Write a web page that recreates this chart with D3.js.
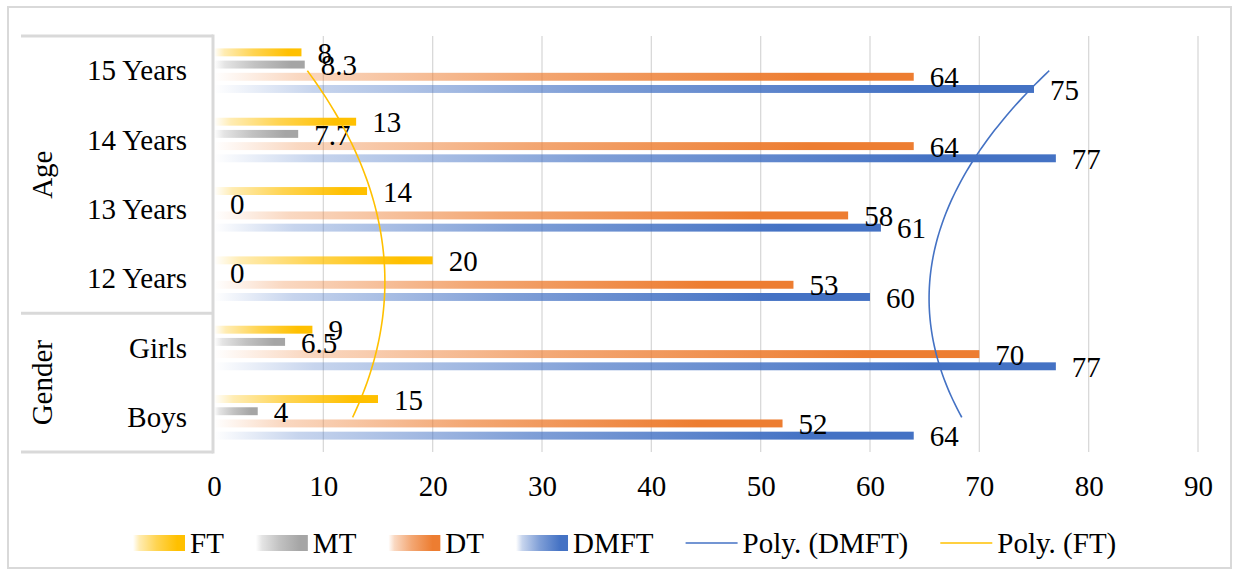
<!DOCTYPE html>
<html>
<head>
<meta charset="utf-8">
<script src="https://cdn.jsdelivr.net/npm/d3@7"></script>
<style>
  html, body { margin: 0; padding: 0; background: #fff; }
  svg { display: block; }
  text { font-family: "Liberation Serif", "Times New Roman", serif; fill: #000; }
</style>
</head>
<body>
<svg id="chart" width="1239" height="577"></svg>
<script>
// Categories in sheet order (bottom to top on the chart)
const categories = ["Boys", "Girls", "12 Years", "13 Years", "14 Years", "15 Years"];
const groups = [
  { name: "Gender", members: ["Boys", "Girls"] },
  { name: "Age", members: ["12 Years", "13 Years", "14 Years", "15 Years"] }
];
const seriesNames = ["FT", "MT", "DT", "DMFT"];
const ftValues   = [15, 9, 20, 14, 13, 8];
const mtValues   = [4, 6.5, 0, 0, 7.7, 8.3];
const dtValues   = [52, 70, 53, 58, 64, 64];
const dmftValues = [64, 77, 60, 61, 77, 75];
const xTicks = [0, 10, 20, 30, 40, 50, 60, 70, 80, 90];

const seriesValues = { FT: ftValues, MT: mtValues, DT: dtValues, DMFT: dmftValues };
const colors = { FT: "#FFC000", MT: "#A5A5A5", DT: "#ED7D31", DMFT: "#4472C4" };

const W = 1239, H = 577;
const plot = { left: 214, right: 1198, top: 36, bottom: 452 };
const tableLeft = 21;
const grid = "#d9d9d9";
const fontSize = 29;
const serif = '"Liberation Serif", "Times New Roman", serif';

const svg = d3.select("#chart");
svg.append("rect").attr("x", 8).attr("y", 7).attr("width", W - 16).attr("height", H - 16)
  .attr("fill", "#fff").attr("stroke", grid).attr("stroke-width", 2);

const x = d3.scaleLinear().domain([0, 90]).range([plot.left, plot.right]);
const y0 = d3.scaleBand().domain(categories.slice().reverse())
  .range([plot.top, plot.bottom]).paddingInner(0.296).paddingOuter(0.148);
const y1 = d3.scaleBand().domain(seriesNames)
  .range([0, y0.bandwidth()]).paddingInner(0.35).paddingOuter(0.175);

// Horizontal gradient fills, light on the left to full colour on the right
const defs = svg.append("defs");
const gradStops = [[0, 0.0], [0.12, 0.3], [0.45, 0.68], [0.85, 1], [1, 1]];
seriesNames.forEach(s => {
  const g = defs.append("linearGradient").attr("id", "grad-" + s)
    .attr("x1", 0).attr("x2", 1).attr("y1", 0).attr("y2", 0);
  gradStops.forEach(([o, a]) => g.append("stop").attr("offset", o)
    .attr("stop-color", colors[s]).attr("stop-opacity", a));
});

// Vertical gridlines
svg.append("g").selectAll("line").data(xTicks.filter(t => t > 0)).join("line")
  .attr("x1", d => x(d)).attr("x2", d => x(d))
  .attr("y1", plot.top).attr("y2", plot.bottom)
  .attr("stroke", grid).attr("stroke-width", 1.3);

// X-axis tick labels
const xAxis = d3.axisBottom(x).tickValues(xTicks).tickSize(0).tickPadding(0);
const xg = svg.append("g").attr("transform", `translate(0,${plot.bottom})`).call(xAxis);
xg.attr("font-family", null).attr("font-size", null);
xg.select(".domain").remove();
xg.selectAll("text").attr("font-size", fontSize).attr("dy", null).attr("y", 44)
  .style("font-family", serif).attr("fill", "#000");

// Bars
const rows = categories.map((c, i) => ({ cat: c, i }));
const barG = svg.append("g");
rows.forEach(r => {
  seriesNames.forEach(s => {
    const v = seriesValues[s][r.i];
    const yy = y0(r.cat) + y1(s);
    if (v > 0) {
      barG.append("rect").attr("x", x(0)).attr("y", yy)
        .attr("width", x(v) - x(0)).attr("height", y1.bandwidth())
        .attr("fill", `url(#grad-${s})`);
    }
  });
});

// Category table: axis line, separators, labels
const tbl = svg.append("g");
tbl.append("line").attr("x1", plot.left - 1).attr("x2", plot.left - 1)
  .attr("y1", plot.top - 1.5).attr("y2", plot.bottom + 1.5)
  .attr("stroke", grid).attr("stroke-width", 3);
const step = y0.step();
const catTop = c => y0(c) - y0.paddingInner() * step / 2;
const catBottom = c => y0(c) + y0.bandwidth() + y0.paddingInner() * step / 2;
const sepYs = [plot.top, ...groups.map(g => catBottom(g.members[0]))];
sepYs.forEach(yv => tbl.append("line").attr("x1", tableLeft).attr("x2", plot.left - 1)
  .attr("y1", yv).attr("y2", yv).attr("stroke", grid).attr("stroke-width", 3));

tbl.selectAll("text.cat").data(categories).join("text").attr("class", "cat")
  .attr("x", 187).attr("y", d => y0(d) + y0.bandwidth() / 2)
  .attr("dy", "0.33em").attr("text-anchor", "end").attr("font-size", fontSize)
  .text(d => d);

groups.forEach(g => {
  const top = catTop(g.members[g.members.length - 1]);
  const bot = catBottom(g.members[0]);
  const cy = (top + bot) / 2;
  tbl.append("text").attr("transform", `translate(52,${cy}) rotate(-90)`)
    .attr("text-anchor", "middle").attr("font-size", fontSize).text(g.name);
});

// Data labels
const labG = svg.append("g");
rows.forEach(r => {
  seriesNames.forEach(s => {
    const v = seriesValues[s][r.i];
    const yy = y0(r.cat) + y1(s) + y1.bandwidth() / 2;
    labG.append("text").attr("x", x(v) + 16).attr("y", yy).attr("dy", "0.37em")
      .attr("font-size", fontSize).text(v);
  });
});

// Second-order polynomial trendlines (least squares over category index 1..6)
function quadFit(vals) {
  const n = vals.length;
  const xs = vals.map((_, i) => i + 1);
  const S = k => d3.sum(xs, xi => Math.pow(xi, k));
  const T = k => d3.sum(xs, (xi, i) => Math.pow(xi, k) * vals[i]);
  const A = [[n, S(1), S(2)], [S(1), S(2), S(3)], [S(2), S(3), S(4)]];
  const b = [T(0), T(1), T(2)];
  for (let i = 0; i < 3; i++) {
    for (let j = i + 1; j < 3; j++) {
      const f = A[j][i] / A[i][i];
      for (let k = i; k < 3; k++) A[j][k] -= f * A[i][k];
      b[j] -= f * b[i];
    }
  }
  const c = [0, 0, 0];
  for (let i = 2; i >= 0; i--) {
    let s = b[i];
    for (let k = i + 1; k < 3; k++) s -= A[i][k] * c[k];
    c[i] = s / A[i][i];
  }
  return t => c[0] + c[1] * t + c[2] * t * t;
}
const centerY = c => y0(c) + y0.bandwidth() / 2;
const tY = d3.scaleLinear().domain([1, categories.length])
  .range([centerY(categories[0]), centerY(categories[categories.length - 1])]);
const tSamples = d3.range(1, categories.length + 0.0001, 0.05);
const trendLine = d3.line().x(d => x(d.v)).y(d => tY(d.t)).curve(d3.curveBasis);
[["DMFT", dmftValues], ["FT", ftValues]].forEach(([s, vals]) => {
  const f = quadFit(vals);
  svg.append("path").datum(tSamples.map(t => ({ t, v: f(t) })))
    .attr("d", trendLine).attr("fill", "none")
    .attr("stroke", colors[s]).attr("stroke-width", 1.6);
});

// Legend
const legendItems = [
  ...seriesNames.map(s => ({ label: s, type: "bar", key: s })),
  { label: "Poly. (DMFT)", type: "line", key: "DMFT" },
  { label: "Poly. (FT)", type: "line", key: "FT" }
];
const lg = svg.append("g");
let lx = 133;
const ly = 543;
legendItems.forEach(it => {
  if (it.type === "bar") {
    lg.append("rect").attr("x", lx).attr("y", ly - 8).attr("width", 52).attr("height", 16)
      .attr("fill", `url(#grad-${it.key})`);
  } else {
    lg.append("line").attr("x1", lx).attr("x2", lx + 52).attr("y1", ly).attr("y2", ly)
      .attr("stroke", colors[it.key]).attr("stroke-width", 1.6);
  }
  const t = lg.append("text").attr("x", lx + 57).attr("y", ly).attr("dy", "0.34em")
    .attr("font-size", fontSize).text(it.label);
  lx += 57 + t.node().getComputedTextLength() + 32;
});
</script>
</body>
</html>
